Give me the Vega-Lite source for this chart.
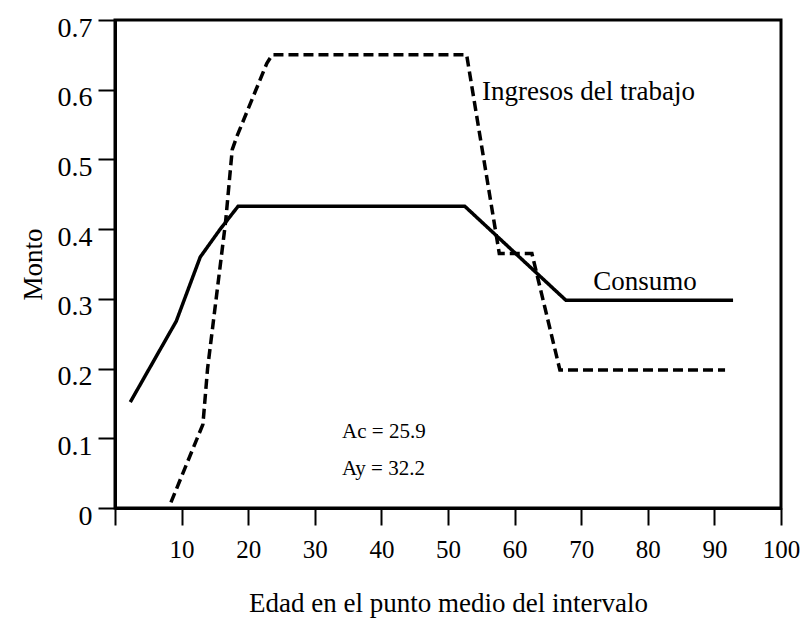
{
  "$schema": "https://vega.github.io/schema/vega-lite/v6.json",
  "width": 666,
  "height": 488,
  "autosize": "none",
  "padding": {"left": 115, "top": 20, "right": 19, "bottom": 121},
  "background": "white",
  "view": {"stroke": "black", "strokeWidth": 3},
  "config": {
    "font": "Liberation Serif",
    "axis": {
      "domainColor": "black",
      "domainWidth": 3,
      "tickColor": "black",
      "tickWidth": 2,
      "tickSize": 17,
      "grid": false,
      "labelColor": "black",
      "titleColor": "black",
      "labelFont": "Liberation Serif",
      "titleFont": "Liberation Serif",
      "titleFontWeight": "normal"
    }
  },
  "datasets": {
    "lines": [
      {"serie": "Consumo", "orden": 1, "edad": 2.3, "monto": 0.152},
      {"serie": "Consumo", "orden": 2, "edad": 9.2, "monto": 0.268},
      {"serie": "Consumo", "orden": 3, "edad": 12.8, "monto": 0.36},
      {"serie": "Consumo", "orden": 4, "edad": 15.8, "monto": 0.40},
      {"serie": "Consumo", "orden": 5, "edad": 18.5, "monto": 0.433},
      {"serie": "Consumo", "orden": 6, "edad": 52.5, "monto": 0.433},
      {"serie": "Consumo", "orden": 7, "edad": 67.7, "monto": 0.298},
      {"serie": "Consumo", "orden": 8, "edad": 92.8, "monto": 0.298},
      {"serie": "Ingresos del trabajo", "orden": 1, "edad": 8.4, "monto": 0.008},
      {"serie": "Ingresos del trabajo", "orden": 2, "edad": 13.2, "monto": 0.12},
      {"serie": "Ingresos del trabajo", "orden": 3, "edad": 13.9, "monto": 0.2},
      {"serie": "Ingresos del trabajo", "orden": 4, "edad": 16.6, "monto": 0.41},
      {"serie": "Ingresos del trabajo", "orden": 5, "edad": 17.6, "monto": 0.514},
      {"serie": "Ingresos del trabajo", "orden": 6, "edad": 18.3, "monto": 0.533},
      {"serie": "Ingresos del trabajo", "orden": 7, "edad": 22.8, "monto": 0.638},
      {"serie": "Ingresos del trabajo", "orden": 8, "edad": 23.6, "monto": 0.65},
      {"serie": "Ingresos del trabajo", "orden": 9, "edad": 52.8, "monto": 0.65},
      {"serie": "Ingresos del trabajo", "orden": 10, "edad": 57.7, "monto": 0.365},
      {"serie": "Ingresos del trabajo", "orden": 11, "edad": 62.6, "monto": 0.365},
      {"serie": "Ingresos del trabajo", "orden": 12, "edad": 66.8, "monto": 0.198},
      {"serie": "Ingresos del trabajo", "orden": 13, "edad": 91.6, "monto": 0.198}
    ],
    "labels": [
      {"texto": "Ingresos del trabajo", "edad": 55.1, "monto": 0.585, "size": 27},
      {"texto": "Consumo", "edad": 71.8, "monto": 0.313, "size": 27},
      {"texto": "Ac = 25.9", "edad": 34.1, "monto": 0.1, "size": 21},
      {"texto": "Ay = 32.2", "edad": 34.1, "monto": 0.047, "size": 21}
    ]
  },
  "layer": [
    {
      "data": {"name": "lines"},
      "mark": {"type": "line", "color": "black", "strokeWidth": 3.5, "strokeJoin": "miter", "clip": true},
      "encoding": {
        "x": {
          "field": "edad",
          "type": "quantitative",
          "scale": {"domain": [0, 100], "nice": false, "zero": false},
          "axis": {
            "title": "Edad en el punto medio del intervalo",
            "values": [0, 10, 20, 30, 40, 50, 60, 70, 80, 90, 100],
            "labelExpr": "datum.value == 0 ? '' : datum.label",
            "labelFontSize": 25,
            "labelPadding": 12,
            "labelFlush": false,
            "labelOverlap": false,
            "titleFontSize": 27,
            "titlePadding": 28
          }
        },
        "y": {
          "field": "monto",
          "type": "quantitative",
          "scale": {"domain": [0, 0.7], "nice": false},
          "axis": {
            "title": "Monto",
            "values": [0, 0.1, 0.2, 0.3, 0.4, 0.5, 0.6, 0.7],
            "labelExpr": "datum.value == 0 ? '0' : format(datum.value, '.1f')",
            "labelFontSize": 28,
            "labelPadding": 6,
            "labelOffset": 8,
            "labelFlush": false,
            "labelOverlap": false,
            "titleFontSize": 27,
            "titlePadding": 10
          }
        },
        "strokeDash": {
          "field": "serie",
          "type": "nominal",
          "scale": {"domain": ["Consumo", "Ingresos del trabajo"], "range": [[1, 0], [10, 5]]},
          "legend": null
        },
        "order": {"field": "orden", "type": "quantitative"}
      }
    },
    {
      "data": {"name": "labels"},
      "mark": {"type": "text", "align": "left", "baseline": "alphabetic", "color": "black", "font": "Liberation Serif"},
      "encoding": {
        "x": {"field": "edad", "type": "quantitative"},
        "y": {"field": "monto", "type": "quantitative"},
        "text": {"field": "texto"},
        "size": {"field": "size", "type": "quantitative", "scale": null}
      }
    }
  ]
}
